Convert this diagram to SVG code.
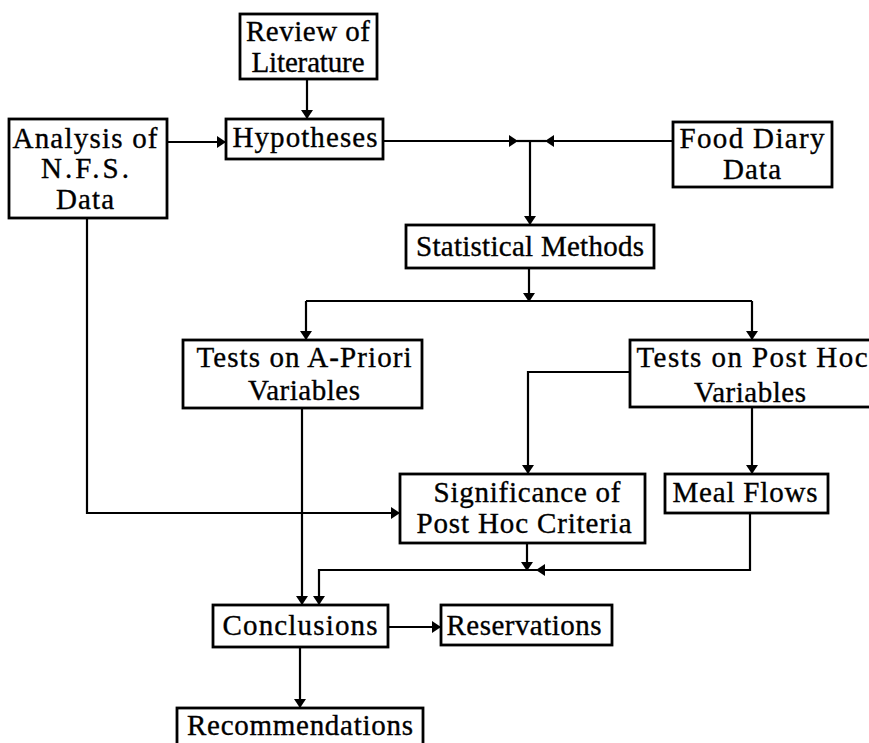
<svg xmlns="http://www.w3.org/2000/svg" width="869" height="743" viewBox="0 0 869 743">
  <style>
    .box { fill: #fff; stroke: #000; stroke-width: 2.8; }
    .lbl { font-family: "Liberation Serif", "DejaVu Serif", serif; font-size: 29px; fill: #000; stroke: #000; stroke-width: 0.35; text-anchor: middle; }
    .wire { fill: none; stroke: #000; stroke-width: 2.2; }
    .arr { marker-end: url(#head); }
  </style>
  <defs>
    <!-- small solid arrowhead, tip at the path end -->
    <marker id="head" markerUnits="userSpaceOnUse" markerWidth="12" markerHeight="14" viewBox="0 0 12 14" refX="10" refY="7" orient="auto">
      <path d="M1,1 L10,7 L1,13 Z" fill="#000"/>
    </marker>
  </defs>
  <rect width="869" height="743" fill="#fff"/>

  <g id="connectors">
    <path class="wire arr" d="M307,79 V119"/>
    <path class="wire arr" d="M167,142 H226"/>
    <path class="wire arr" d="M383,141 H518"/>
    <path class="wire" d="M517,141 H546"/>
    <path class="wire arr" d="M673,141 H545"/>
    <path class="wire arr" d="M530,141 V225"/>
    <path class="wire arr" d="M529,268 V302"/>
    <path class="wire" d="M306,301 H752"/>
    <path class="wire arr" d="M306,301 V340"/>
    <path class="wire arr" d="M752,301 V340"/>
    <path class="wire arr" d="M630,372 H528 V474"/>
    <path class="wire arr" d="M752,407 V474"/>
    <path class="wire arr" d="M87,218 V513 H400"/>
    <path class="wire arr" d="M302,408 V605"/>
    <path class="wire arr" d="M527,543 V571"/>
    <path class="wire arr" d="M750,513 V570 H536"/>
    <path class="wire arr" d="M537,570 H319 V605"/>
    <path class="wire arr" d="M388,627 H441"/>
    <path class="wire arr" d="M300,647 V708"/>
  </g>

  <g id="review">
    <rect class="box" x="240" y="14" width="137" height="65"/>
    <text class="lbl" x="308" y="41" textLength="124" lengthAdjust="spacing">Review of</text>
    <text class="lbl" x="308" y="72" textLength="113" lengthAdjust="spacing">Literature</text>
  </g>
  <g id="analysis">
    <rect class="box" x="9" y="119" width="158" height="99"/>
    <text class="lbl" x="85" y="148" textLength="145" lengthAdjust="spacing">Analysis of</text>
    <text class="lbl" x="85" y="178" textLength="88" lengthAdjust="spacing">N.F.S.</text>
    <text class="lbl" x="85" y="209" textLength="58" lengthAdjust="spacing">Data</text>
  </g>
  <g id="hypotheses">
    <rect class="box" x="226" y="119" width="157" height="40"/>
    <text class="lbl" x="305" y="147" textLength="145" lengthAdjust="spacing">Hypotheses</text>
  </g>
  <g id="food-diary">
    <rect class="box" x="673" y="122" width="159" height="65"/>
    <text class="lbl" x="752" y="148" textLength="145" lengthAdjust="spacing">Food Diary</text>
    <text class="lbl" x="752" y="179" textLength="58" lengthAdjust="spacing">Data</text>
  </g>
  <g id="statistical-methods">
    <rect class="box" x="406" y="225" width="248" height="43"/>
    <text class="lbl" x="530" y="256" textLength="228" lengthAdjust="spacing">Statistical Methods</text>
  </g>
  <g id="a-priori">
    <rect class="box" x="183" y="340" width="239" height="68"/>
    <text class="lbl" x="304" y="367" textLength="215" lengthAdjust="spacing">Tests on A-Priori</text>
    <text class="lbl" x="304" y="400" textLength="112" lengthAdjust="spacing">Variables</text>
  </g>
  <g id="post-hoc">
    <rect class="box" x="630" y="340" width="245" height="67"/>
    <text class="lbl" x="752" y="367" textLength="231" lengthAdjust="spacing">Tests on Post Hoc</text>
    <text class="lbl" x="750" y="402" textLength="112" lengthAdjust="spacing">Variables</text>
  </g>
  <g id="significance">
    <rect class="box" x="400" y="474" width="245" height="69"/>
    <text class="lbl" x="527" y="502" textLength="187" lengthAdjust="spacing">Significance of</text>
    <text class="lbl" x="524" y="533" textLength="215" lengthAdjust="spacing">Post Hoc Criteria</text>
  </g>
  <g id="meal-flows">
    <rect class="box" x="665" y="474" width="163" height="39"/>
    <text class="lbl" x="745" y="502" textLength="145" lengthAdjust="spacing">Meal Flows</text>
  </g>
  <g id="conclusions">
    <rect class="box" x="213" y="605" width="175" height="42"/>
    <text class="lbl" x="300" y="635" textLength="155" lengthAdjust="spacing">Conclusions</text>
  </g>
  <g id="reservations">
    <rect class="box" x="441" y="605" width="171" height="40"/>
    <text class="lbl" x="524" y="635" textLength="155" lengthAdjust="spacing">Reservations</text>
  </g>
  <g id="recommendations">
    <rect class="box" x="177" y="708" width="246" height="45"/>
    <text class="lbl" x="300" y="735" textLength="226" lengthAdjust="spacing">Recommendations</text>
  </g>
</svg>
